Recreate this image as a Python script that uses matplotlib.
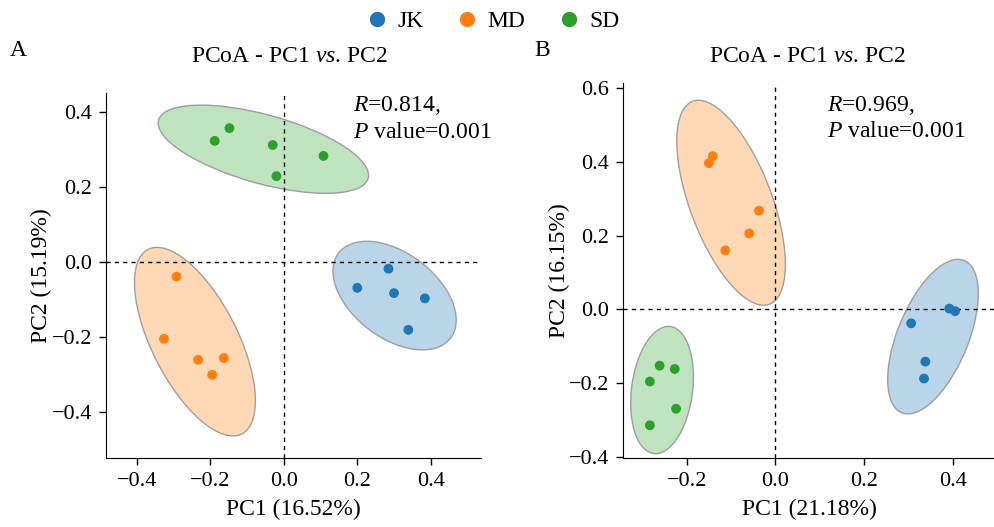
import numpy as np
import matplotlib
matplotlib.use("Agg")
import matplotlib.pyplot as plt
from matplotlib.patches import Ellipse
from matplotlib.lines import Line2D

plt.rcParams['font.family'] = ['Liberation Serif', 'DejaVu Serif']
plt.rcParams['mathtext.fontset'] = 'custom'
plt.rcParams['mathtext.rm'] = 'Liberation Serif'
plt.rcParams['mathtext.it'] = 'Liberation Serif:italic'
plt.rcParams['axes.unicode_minus'] = True

groups = ["JK", "MD", "SD"]
colors = ["#1f77b4", "#ff7f0e", "#2ca02c"]

# panel A (PC1 16.52%, PC2 15.19%)
a_jk_x = [0.285, 0.200, 0.300, 0.384, 0.339]
a_jk_y = [-0.018, -0.069, -0.083, -0.097, -0.181]
a_md_x = [-0.292, -0.326, -0.233, -0.163, -0.195]
a_md_y = [-0.039, -0.205, -0.261, -0.256, -0.301]
a_sd_x = [-0.188, -0.148, -0.030, 0.108, -0.020]
a_sd_y = [0.323, 0.357, 0.312, 0.283, 0.229]

# panel B (PC1 21.18%, PC2 16.15%)
b_jk_x = [0.392, 0.405, 0.306, 0.338, 0.335]
b_jk_y = [0.002, -0.005, -0.038, -0.142, -0.188]
b_md_x = [-0.150, -0.141, -0.037, -0.059, -0.113]
b_md_y = [0.397, 0.416, 0.268, 0.206, 0.160]
b_sd_x = [-0.261, -0.227, -0.283, -0.224, -0.283]
b_sd_y = [-0.153, -0.162, -0.196, -0.270, -0.315]

stats_a = ["0.814", "0.001"]
stats_b = ["0.969", "0.001"]


# 95% confidence ellipse from the sample covariance
def conf_ellipse(ax, x, y, color):
    x = np.asarray(x)
    y = np.asarray(y)
    cov = np.cov(x, y)
    vals, vecs = np.linalg.eigh(cov)
    order = vals.argsort()[::-1]
    vals, vecs = vals[order], vecs[:, order]
    k = np.sqrt(-2 * np.log(0.05))
    angle = np.degrees(np.arctan2(vecs[1, 0], vecs[0, 0]))
    w, h = 2 * k * np.sqrt(vals[0]), 2 * k * np.sqrt(vals[1])
    ax.add_patch(Ellipse((x.mean(), y.mean()), w, h, angle=angle,
                         facecolor=color, alpha=0.3, edgecolor='none', zorder=1))
    ax.add_patch(Ellipse((x.mean(), y.mean()), w, h, angle=angle,
                         facecolor='none', edgecolor='#8c8c8c', lw=1.0, alpha=0.8, zorder=1.5))


def draw_panel(ax, data, xlab, ylab, stats, tx, ty):
    for (x, y), c in zip(data, colors):
        conf_ellipse(ax, x, y, c)
        ax.scatter(x, y, s=50, color=c, zorder=3, edgecolors='none')
    ax.axhline(0, color='black', lw=1, ls=(0, (3, 3)), zorder=2)
    ax.axvline(0, color='black', lw=1, ls=(0, (3, 3)), zorder=2)
    ax.spines['top'].set_visible(False)
    ax.spines['right'].set_visible(False)
    ax.tick_params(labelsize=16, length=5, width=1, pad=5)
    ax.set_xlabel(xlab, fontsize=17, labelpad=6)
    ax.set_ylabel(ylab, fontsize=17, labelpad=-0.5)
    ax.text(tx, ty[0], "$\\mathit{R}$=" + stats[0] + ",", transform=ax.transAxes,
            fontsize=17, va='center', ha='left')
    ax.text(tx, ty[1], "$\\mathit{P}$ value=" + stats[1], transform=ax.transAxes,
            fontsize=17, va='center', ha='left')


fig = plt.figure(figsize=(9.95, 5.27), dpi=100)
ax1 = fig.add_axes([0.1065, 0.1315, 0.377, 0.6915])
ax2 = fig.add_axes([0.6264, 0.1315, 0.3736, 0.7105])

draw_panel(ax1, [(a_jk_x, a_jk_y), (a_md_x, a_md_y), (a_sd_x, a_sd_y)],
           "PC1 (16.52%)", "PC2 (15.19%)", stats_a, 0.659, (0.967, 0.893))
ax1.set_xlim(-0.484, 0.537)
ax1.set_ylim(-0.522, 0.45)
ax1.set_xticks([-0.4, -0.2, 0.0, 0.2, 0.4])
ax1.set_yticks([-0.4, -0.2, 0.0, 0.2, 0.4])

draw_panel(ax2, [(b_jk_x, b_jk_y), (b_md_x, b_md_y), (b_sd_x, b_sd_y)],
           "PC1 (21.18%)", "PC2 (16.15%)", stats_b, 0.547, (0.941, 0.870))
ax2.set_xlim(-0.343, 0.495)
ax2.set_ylim(-0.403, 0.614)
ax2.set_xticks([-0.2, 0.0, 0.2, 0.4])
ax2.set_yticks([-0.4, -0.2, 0.0, 0.2, 0.4, 0.6])

fig.text(0.291, 1 - 57 / 527, "PCoA - PC1 $\\mathit{vs}$. PC2", fontsize=17, ha='center', va='center')
fig.text(0.812, 1 - 57 / 527, "PCoA - PC1 $\\mathit{vs}$. PC2", fontsize=17, ha='center', va='center')
fig.text(0.010, 1 - 50 / 527, "A", fontsize=17, ha='left', va='center')
fig.text(0.537, 1 - 50 / 527, "B", fontsize=17, ha='left', va='center')

handles = [Line2D([], [], marker='o', ls='none', color=c, markersize=10) for c in colors]
fig.legend(handles, groups, loc='upper center', bbox_to_anchor=(0.495, 1.02), ncol=3,
           frameon=False, fontsize=17, handlelength=1.0, handletextpad=0.35,
           columnspacing=1.35)

fig.savefig("out.png", dpi=100)
